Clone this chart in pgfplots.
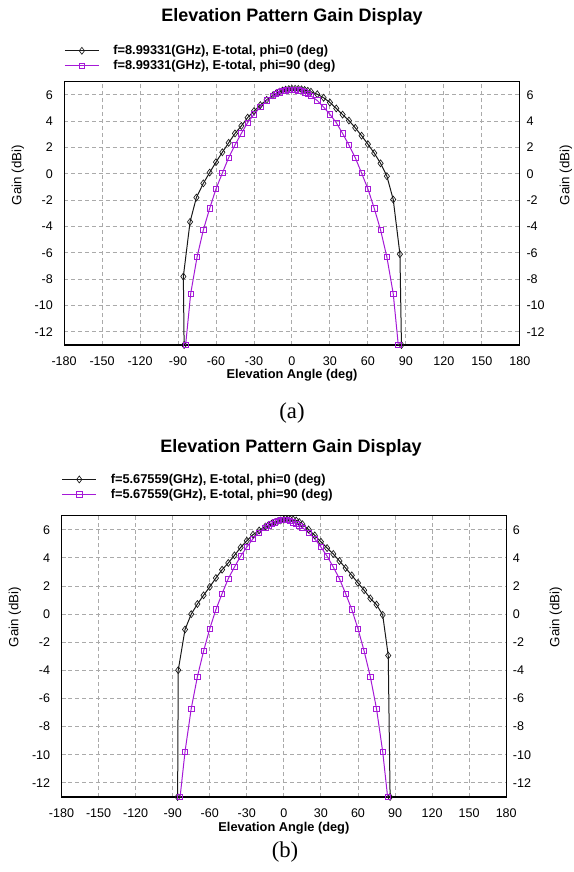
\documentclass[border=0pt]{standalone}
\usepackage{fontspec}
\setmainfont{Liberation Sans}
\newfontfamily\capfont{Liberation Serif}
\usepackage{pgfplots}
\pgfplotsset{compat=1.18}
\definecolor{phiz}{RGB}{25,25,25}
\definecolor{phin}{RGB}{165,25,215}
\definecolor{gridc}{RGB}{170,170,170}
\newcommand{\titlefont}{\fontsize{13.5}{16}\bfseries\selectfont}
\pgfplotsset{
  antbase/.style={
    scale only axis,
    xmin=-180, xmax=180, ymin=-13, ymax=7,
    xtick={-180,-150,...,180}, ytick={-12,-10,...,6},
    major tick length=0pt,
    /pgf/number format/assume math mode=true,
    tick label style={font=\fontsize{9.4}{10}\selectfont},
    axis line style={line width=0.9pt},
  },
  antstyle/.style={
    antbase,
    grid=major,
    major grid style={gridc, dash pattern=on 3pt off 2.2pt, line width=0.7pt},
    clip=false,
    xticklabel style={yshift=-5.3pt},
    yticklabel style={xshift=-5.0pt},
    label style={font=\fontsize{9.6}{11}\bfseries\selectfont},
    legend style={draw=none, fill=none, inner sep=0pt, row sep=2.8pt,
      /tikz/column sep=10.5pt,
      font=\fontsize{9.6}{11}\bfseries\selectfont,
      nodes={inner sep=0pt}},
    legend cell align=left,
    legend image code/.code={\draw[mark repeat=2,mark phase=2,##1] plot coordinates {(0pt,0pt) (12.75pt,0pt) (25.5pt,0pt)};},
  },
  rightstyle/.style={
    antbase,
    hide x axis,
    axis y line*=right,
    yticklabel style={xshift=1.5pt},
    label style={font=\fontsize{9.6}{11}\bfseries\selectfont},
  },
  blk/.style={phiz, line width=0.75pt, mark=diamond, mark size=2.6pt, mark options={solid, fill=none, line width=0.5pt}},
  vio/.style={phin, line width=0.75pt, mark=square, mark size=2.0pt, mark options={solid, fill=none, line width=0.55pt}},
}
\begin{document}
\begin{tikzpicture}
\useasboundingbox (0,0) rectangle (430.5pt,-654pt);
\node[font=\titlefont] at (219pt,-12.75pt) {Elevation Pattern Gain Display};
\node[font=\titlefont] at (218.25pt,-336pt) {Elevation Pattern Gain Display};
\node[font=\capfont\fontsize{17}{20}\selectfont] at (219pt,-309.75pt) {(a)};
\node[font=\capfont\fontsize{17}{20}\selectfont] at (213.75pt,-639pt) {(b)};

% ---------------- (a) ----------------
\begin{axis}[antstyle, at={(48.08pt,-258.75pt)}, anchor=south west,
  width=341.78pt, height=197.48pt,
  xlabel={Elevation Angle (deg)},
  xlabel style={at={(axis description cs:0.5,0)}, anchor=center, yshift=-22.5pt},
  ylabel={Gain (dBi)},
  every axis y label/.style={at={(axis description cs:0,0)}, xshift=-34.6pt, yshift=127.5pt, anchor=center, rotate=90},
  legend style={at={(axis description cs:0,1)}, anchor=south west, yshift=7.5pt},
]
\addplot[blk] coordinates {(-85.2,-13) (-85.8,-7.8) (-80.5,-3.65) (-75.5,-1.8) (-70,-0.72) (-65,0.1) (-60,0.89) (-55,1.64) (-50,2.36) (-45,3.07) (-40,3.64) (-35,4.27) (-30,4.77) (-25,5.22) (-20,5.62) (-15,5.97) (-12.5,6.12) (-10,6.24) (-7.5,6.33) (-5,6.4) (-2.5,6.44) (0,6.46) (2.5,6.46) (5,6.45) (7.5,6.42) (10,6.37) (12.5,6.31) (15,6.24) (20,6.05) (25,5.78) (30,5.42) (35,4.97) (40,4.5) (45,4.05) (50,3.5) (55,2.9) (60,2.25) (65,1.58) (70,0.8) (75,-0.18) (80,-1.95) (85.3,-6.1) (86.5,-13)};
\addlegendentry{f=8.99331(GHz), E-total, phi=0 (deg)}
\addplot[vio] coordinates {(-84,-13) (-80,-9.1) (-75,-6.33) (-70,-4.26) (-65,-2.62) (-60,-1.14) (-55,0.06) (-50,1.23) (-45,2.19) (-40,3.07) (-35,3.89) (-30,4.52) (-25,5.07) (-20,5.57) (-15,5.93) (-12.5,6.07) (-10,6.19) (-7.5,6.28) (-5,6.35) (-2.5,6.39) (0,6.4) (2.5,6.39) (5,6.35) (7.5,6.28) (10,6.19) (12.5,6.07) (15,5.93) (20,5.57) (25,5.07) (30,4.52) (35,3.89) (40,3.07) (45,2.19) (50,1.23) (55,0.06) (60,-1.14) (65,-2.62) (70,-4.26) (75,-6.33) (80,-9.1) (84,-13)};
\addlegendentry{f=8.99331(GHz), E-total, phi=90 (deg)}
\end{axis}
\begin{axis}[rightstyle, at={(48.08pt,-258.75pt)}, anchor=south west,
  width=341.78pt, height=197.48pt,
  ylabel={Gain (dBi)},
  every axis y label/.style={at={(axis description cs:1,0)}, xshift=34.65pt, yshift=127.5pt, anchor=center, rotate=90},
]
\end{axis}

% ---------------- (b) ----------------
\begin{axis}[antstyle, at={(46.13pt,-597.75pt)}, anchor=south west,
  width=333.53pt, height=210.98pt,
  xlabel={Elevation Angle (deg)},
  xlabel style={at={(axis description cs:0.5,0)}, anchor=center, yshift=-23.5pt},
  ylabel={Gain (dBi)},
  every axis y label/.style={at={(axis description cs:0,0)}, xshift=-34.9pt, yshift=135pt, anchor=center, rotate=90},
  legend style={at={(axis description cs:0,1)}, anchor=south west, yshift=11.5pt},
]
\addplot[blk] coordinates {(-86,-13) (-85.5,-3.98) (-80,-1.09) (-75,0.0) (-70,0.72) (-65,1.34) (-60,1.94) (-55,2.57) (-50,3.16) (-45,3.64) (-40,4.18) (-35,4.74) (-30,5.22) (-25,5.65) (-20,5.95) (-15,6.23) (-12.5,6.34) (-10,6.43) (-7.5,6.52) (-5,6.6) (-2.5,6.67) (0,6.72) (2.5,6.75) (5,6.76) (7.5,6.73) (10,6.66) (12.5,6.55) (15,6.4) (20,6.02) (25,5.6) (30,5.15) (35,4.7) (40,4.28) (45,3.78) (50,3.28) (55,2.76) (60,2.22) (65,1.7) (70,1.12) (75,0.68) (80,-0.05) (84.5,-2.94) (86,-13)};
\addlegendentry{f=5.67559(GHz), E-total, phi=0 (deg)}
\addplot[vio] coordinates {(-84,-13) (-80,-9.77) (-75,-6.72) (-70,-4.45) (-65,-2.63) (-60,-1.04) (-55,0.33) (-50,1.46) (-45,2.52) (-40,3.35) (-35,4.12) (-30,4.77) (-25,5.36) (-20,5.8) (-15,6.15) (-12.5,6.3) (-10,6.42) (-7.5,6.53) (-5,6.63) (-2.5,6.7) (0,6.72) (2.5,6.7) (5,6.63) (7.5,6.53) (10,6.42) (12.5,6.3) (15,6.15) (20,5.8) (25,5.36) (30,4.77) (35,4.12) (40,3.35) (45,2.52) (50,1.46) (55,0.33) (60,-1.04) (65,-2.63) (70,-4.45) (75,-6.72) (80,-9.77) (84,-13)};
\addlegendentry{f=5.67559(GHz), E-total, phi=90 (deg)}
\end{axis}
\begin{axis}[rightstyle, at={(46.13pt,-597.75pt)}, anchor=south west,
  width=333.53pt, height=210.98pt,
  ylabel={Gain (dBi)},
  every axis y label/.style={at={(axis description cs:1,0)}, xshift=37.35pt, yshift=135pt, anchor=center, rotate=90},
]
\end{axis}
\end{tikzpicture}
\end{document}
